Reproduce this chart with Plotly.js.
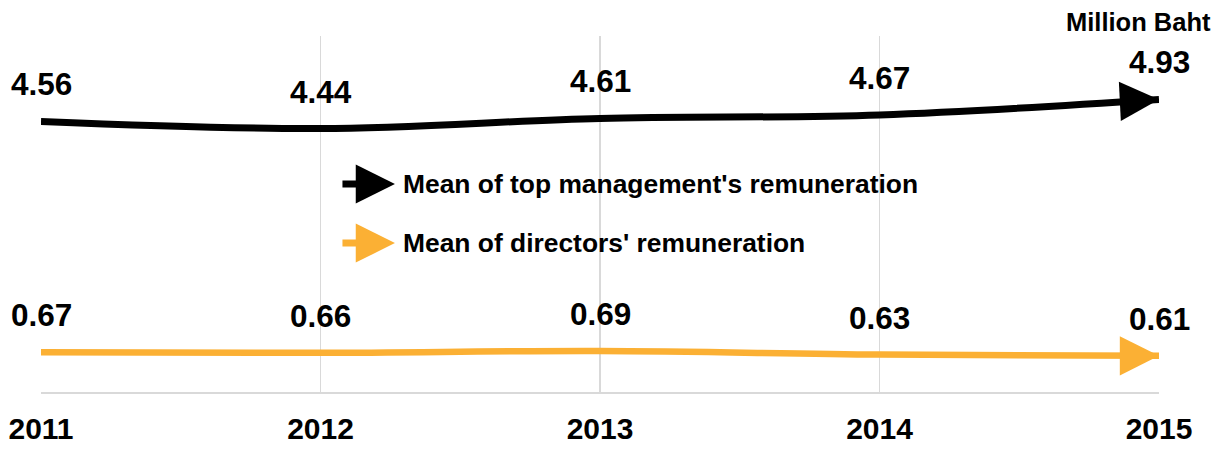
<!DOCTYPE html>
<html>
<head>
<meta charset="utf-8">
<script src="https://cdn.plot.ly/plotly-3.0.1.min.js"></script>
<style>html,body{margin:0;padding:0;background:#fff;}#chart{width:1230px;height:451px;}</style>
</head>
<body>
<div id="chart"></div>
<script>
const years = [2011, 2012, 2013, 2014, 2015];
const topMgmt = [4.56, 4.44, 4.61, 4.67, 4.93];
const directors = [0.67, 0.66, 0.69, 0.63, 0.61];
const seriesNames = ["Mean of top management's remuneration", "Mean of directors' remuneration"];
const seriesColors = ['#000000', '#FBB034'];
const unitLabel = 'Million Baht';

const FONT = 'Liberation Sans, Arial, Helvetica, sans-serif';
const series = [topMgmt, directors];
const widths = [7, 6.5];

const traces = series.map((vals, k) => ({
  x: years, y: vals, type: 'scatter', mode: 'lines',
  line: {color: seriesColors[k], width: widths[k], shape: 'spline', smoothing: 1},
  hoverinfo: 'skip', showlegend: false
}));

const annotations = [];
// data labels
series.forEach((vals, k) => {
  vals.forEach((v, i) => {
    annotations.push({
      x: years[i], y: v, xref: 'x', yref: 'y', text: v.toFixed(2), showarrow: false,
      yshift: 37, font: {family: FONT, size: 31.5, color: '#000', weight: 700}
    });
  });
  // end arrowheads
  const n = vals.length - 1;
  annotations.push({
    x: years[n], y: vals[n], xref: 'x', yref: 'y', text: '', showarrow: true,
    ax: -40, ay: k === 0 ? 2 : 0, arrowhead: 2, arrowsize: 1.12, arrowwidth: 7,
    arrowcolor: seriesColors[k], standoff: 0
  });
  // legend arrow
  const ly = k === 0 ? 0.5843 : 0.4185;
  annotations.push({
    x: 0.3166, y: ly, xref: 'paper', yref: 'paper', text: '', showarrow: true,
    ax: -54, ay: 0, arrowhead: 2, arrowsize: 1.12, arrowwidth: 7,
    arrowcolor: seriesColors[k], standoff: 0
  });
  annotations.push({
    x: 0.3222, y: ly, xref: 'paper', yref: 'paper', text: seriesNames[k], showarrow: false,
    xanchor: 'left', yanchor: 'middle', font: {family: FONT, size: 26.4, color: '#000', weight: 700}
  });
});
annotations.push({
  x: 1.0483, y: 1.0393, xref: 'paper', yref: 'paper', text: unitLabel, showarrow: false,
  xanchor: 'right', yanchor: 'middle', font: {family: FONT, size: 25.5, color: '#000', weight: 700}
});

const layout = {
  width: 1230, height: 451,
  margin: {l: 41, r: 71, t: 36, b: 59, pad: 0},
  paper_bgcolor: '#fff', plot_bgcolor: '#fff',
  showlegend: false,
  xaxis: {
    range: [2011, 2015], tickvals: years, ticktext: years.map(String),
    showgrid: true, gridcolor: '#D9D9D9', gridwidth: 1.3,
    showline: true, linecolor: '#D9D9D9', linewidth: 1.5,
    zeroline: false, ticks: '', ticklabelstandoff: 9,
    tickfont: {family: FONT, size: 30, color: '#000', weight: 700},
    fixedrange: true
  },
  yaxis: {
    range: [0, 6], showgrid: false, zeroline: false, showline: false,
    showticklabels: false, ticks: '', fixedrange: true
  },
  annotations: annotations
};

Plotly.newPlot('chart', traces, layout, {displayModeBar: false, staticPlot: true});
</script>
</body>
</html>
